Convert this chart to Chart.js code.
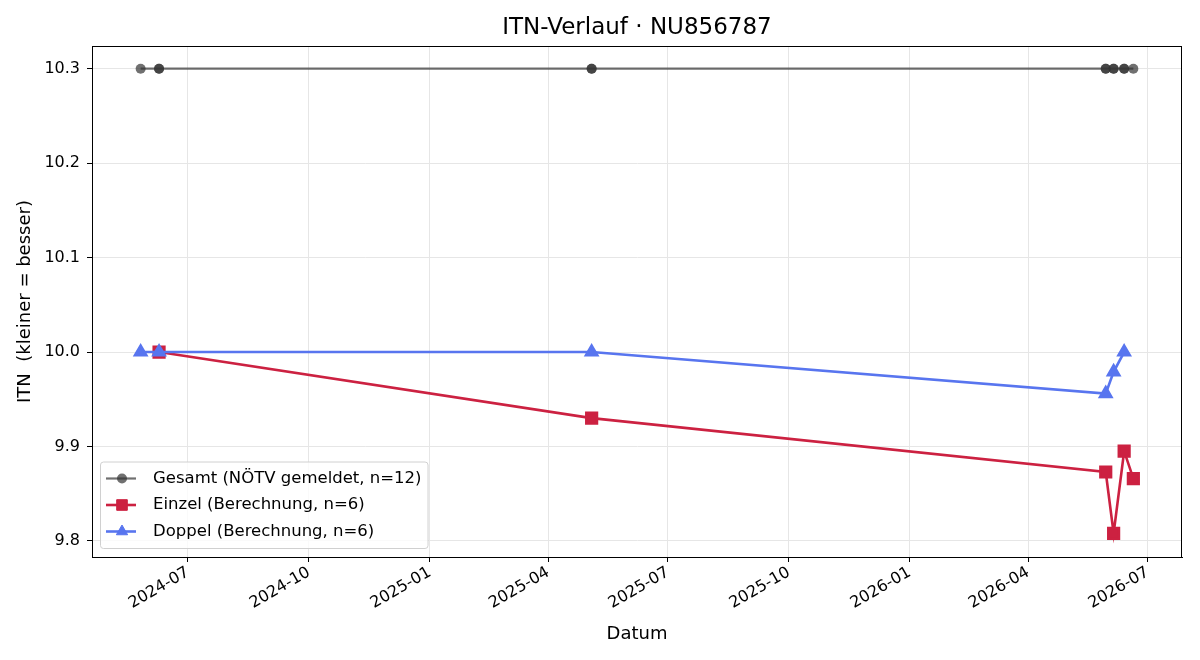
<!DOCTYPE html>
<html>
<head>
<meta charset="utf-8">
<script src="https://cdn.jsdelivr.net/npm/chart.js@4.4.1/dist/chart.umd.min.js"></script>
<style>
  html, body { margin: 0; padding: 0; background: #fff; }
  #wrap { width: 1200px; height: 660px; }
</style>
</head>
<body>
<div id="wrap"><canvas id="itnChart" width="1200" height="660"></canvas></div>
<script>
// --------------------- Data ---------------------
const gesamtDates = ['2024-05-26', '2024-06-09', '2024-06-09', '2025-05-04', '2025-05-04', '2026-05-30',
                     '2026-05-30', '2026-06-05', '2026-06-05', '2026-06-13', '2026-06-13', '2026-06-20'];
const gesamtItn = [10.3, 10.3, 10.3, 10.3, 10.3, 10.3, 10.3, 10.3, 10.3, 10.3, 10.3, 10.3];

const einzelDates = ['2024-06-09', '2025-05-04', '2026-05-30', '2026-06-05', '2026-06-13', '2026-06-20'];
const einzelItn = [10.0, 9.93, 9.873, 9.808, 9.895, 9.866];

const doppelDates = ['2024-05-26', '2024-06-09', '2025-05-04', '2026-05-30', '2026-06-05', '2026-06-13'];
const doppelItn = [10.0, 10.0, 10.0, 9.956, 9.979, 10.0];

const xTicks = ['2024-07', '2024-10', '2025-01', '2025-04', '2025-07', '2025-10', '2026-01', '2026-04', '2026-07'];
const yTicks = [9.8, 9.9, 10.0, 10.1, 10.2, 10.3];
const xRange = ['2024-04-19', '2026-07-27'];
const yRange = [9.783, 10.324];

// --------------------- Helpers ---------------------
const toMs = s => Date.parse(s.length === 7 ? s + '-01' : s);
const toPoints = (dates, vals) => dates.map((d, i) => ({ x: toMs(d), y: vals[i] }));

const FONT = "'DejaVu Sans', sans-serif";

// box around the plot area (matplotlib-style spines)
const frameBox = {
  id: 'frameBox',
  afterDraw(chart) {
    const { ctx, chartArea: a } = chart;
    ctx.save();
    ctx.strokeStyle = '#000';
    ctx.lineWidth = 1;
    ctx.strokeRect(Math.round(a.left) + 0.5, Math.round(a.top) + 0.5,
                   Math.round(a.right - a.left) - 1, Math.round(a.bottom - a.top));
    ctx.restore();
  }
};

// legend inside the plot, lower left
const innerLegend = {
  id: 'innerLegend',
  afterDraw(chart) {
    const { ctx, chartArea: a } = chart;
    const sets = chart.data.datasets;
    ctx.save();
    ctx.font = '16.5px ' + FONT;
    const maxW = Math.max(...sets.map(ds => ctx.measureText(ds.label).width));
    const rowH = 26.5;
    const w = 53 + maxW + 6;
    const h = rowH * sets.length + 7;
    const x0 = a.left + 8, y0 = a.bottom - 9 - h;

    ctx.beginPath();
    ctx.roundRect(x0 + 0.5, y0 + 0.5, w, h, 3);
    ctx.fillStyle = 'rgba(255,255,255,0.8)';
    ctx.fill();
    ctx.strokeStyle = '#d0d0d0';
    ctx.lineWidth = 1;
    ctx.stroke();

    sets.forEach((ds, i) => {
      const cy = y0 + 17 + i * rowH;
      ctx.strokeStyle = ds.borderColor;
      ctx.lineWidth = ds.borderWidth;
      ctx.beginPath();
      ctx.moveTo(x0 + 6, cy);
      ctx.lineTo(x0 + 36, cy);
      ctx.stroke();
      ctx.fillStyle = ds.pointBackgroundColor;
      ctx.strokeStyle = ds.pointBorderColor;
      ctx.lineWidth = 1;
      Chart.helpers.drawPoint(ctx, { pointStyle: ds.pointStyle, radius: ds.pointRadius, rotation: 0, borderWidth: 1 }, x0 + 22, cy);
      ctx.fillStyle = '#000';
      ctx.textBaseline = 'middle';
      ctx.textAlign = 'left';
      ctx.fillText(ds.label, x0 + 53, cy);
    });
    ctx.restore();
  }
};

// --------------------- Chart ---------------------
const ctx = document.getElementById('itnChart').getContext('2d');

new Chart(ctx, {
  type: 'line',
  data: {
    datasets: [{
      label: 'Gesamt (NÖTV gemeldet, n=12)',
      data: toPoints(gesamtDates, gesamtItn),
      borderColor: 'rgba(51,51,51,0.7)',
      borderWidth: 2.2,
      pointStyle: 'circle',
      pointRadius: 5,
      pointBackgroundColor: 'rgba(51,51,51,0.7)',
      pointBorderColor: 'rgba(0,0,0,0)',
      order: 3
    }, {
      label: 'Einzel (Berechnung, n=6)',
      data: toPoints(einzelDates, einzelItn),
      borderColor: '#cc2141',
      borderWidth: 2.6,
      pointStyle: 'rect',
      pointRadius: 7.5,
      pointBackgroundColor: '#cc2141',
      pointBorderColor: '#cc2141',
      order: 2
    }, {
      label: 'Doppel (Berechnung, n=6)',
      data: toPoints(doppelDates, doppelItn),
      borderColor: '#5875ef',
      borderWidth: 2.6,
      pointStyle: 'triangle',
      pointRadius: 6.5,
      pointBackgroundColor: '#5875ef',
      pointBorderColor: '#5875ef',
      order: 1
    }]
  },
  options: {
    responsive: false,
    animation: false,
    layout: { padding: { left: 0, right: 18, top: 0, bottom: 0 } },
    plugins: {
      legend: { display: false },
      tooltip: { enabled: false },
      title: {
        display: true,
        fullSize: false,
        text: 'ITN-Verlauf · NU856787',
        color: '#000',
        font: { family: FONT, size: 23, weight: 'normal' },
        padding: { top: 14, bottom: 4.4 }
      }
    },
    scales: {
      x: {
        type: 'linear',
        min: toMs(xRange[0]),
        max: toMs(xRange[1]),
        afterBuildTicks: axis => { axis.ticks = xTicks.map(t => ({ value: toMs(t) })); },
        afterFit: axis => { axis.height = 103; },
        ticks: {
          autoSkip: false,
          minRotation: 30,
          maxRotation: 30,
          color: '#000',
          padding: 1,
          font: { family: FONT, size: 16 },
          callback: v => xTicks.find(t => toMs(t) === v) || ''
        },
        grid: { color: '#e6e6e6', lineWidth: 1, tickLength: 5, tickColor: '#000' },
        border: { color: '#000', width: 1 },
        title: {
          display: true,
          text: 'Datum',
          color: '#000',
          font: { family: FONT, size: 18 },
          padding: { top: 0, bottom: 15 }
        }
      },
      y: {
        type: 'linear',
        min: yRange[0],
        max: yRange[1],
        afterBuildTicks: axis => { axis.ticks = yTicks.map(v => ({ value: v })); },
        afterFit: axis => { axis.width = 92; },
        ticks: {
          color: '#000',
          padding: 7,
          font: { family: FONT, size: 16 },
          callback: v => v.toFixed(1)
        },
        grid: { color: '#e6e6e6', lineWidth: 1, tickLength: 5, tickColor: '#000' },
        border: { color: '#000', width: 1 },
        title: {
          display: true,
          text: 'ITN  (kleiner = besser)',
          color: '#000',
          font: { family: FONT, size: 18 },
          padding: { top: 15, bottom: 0 }
        }
      }
    }
  },
  plugins: [frameBox, innerLegend]
});
</script>
</body>
</html>
